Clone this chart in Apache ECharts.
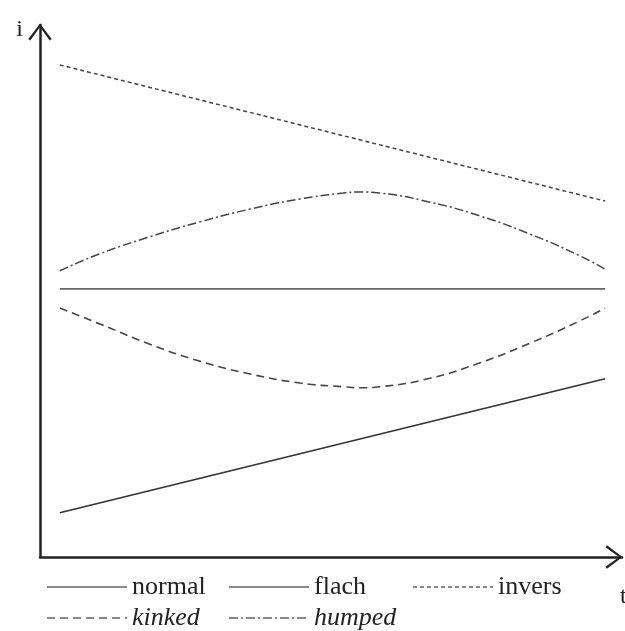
<!DOCTYPE html>
<html>
<head>
<meta charset="utf-8">
<script src="https://cdn.jsdelivr.net/npm/echarts@6/dist/echarts.min.js"></script>
<style>html,body{margin:0;padding:0;background:#fff}#c{width:625px;height:631px}</style>
</head>
<body>
<div id="c"></div>
<script>
// time positions (x axis, 0..100 scale)
var tCurve = [3.4, 10.3, 18.9, 27.5, 36.1, 44.7, 52.1, 55.0, 58.4, 67.0, 75.6, 84.2, 92.8, 97.1];
var tEnds = [3.4, 97.1];
// interest rate values (y axis, 0..100 scale)
var normalVals = [8.3, 33.5];
var flachVals = [50.4, 50.4];
var inversVals = [92.5, 66.9];
var kinkedVals = [46.8, 43.8, 40.0, 36.8, 34.4, 32.7, 32.0, 31.8, 32.0, 33.6, 36.5, 40.2, 44.4, 46.8];
var humpedVals = [53.8, 57.0, 60.2, 63.0, 65.4, 67.3, 68.4, 68.6, 68.4, 66.7, 64.1, 60.7, 56.6, 54.1];
var seriesNames = ['normal', 'flach', 'invers', 'kinked', 'humped'];
var axisNameX = 't';
var axisNameY = 'i';

function pairs(xs, ys) { return xs.map(function (x, i) { return [x, ys[i]]; }); }

var serif = 'Liberation Serif, Times New Roman, serif';
var chevron = 'path://M0,16 L12,0 L24,16 L22,17.5 L12,3.5 L2,17.5 Z';
var hiddenSymbol = { color: 'rgba(0,0,0,0)', borderColor: 'rgba(0,0,0,0)', borderWidth: 0, opacity: 0 };

// legend layout: [series index, left, top, italic]
var legendSlots = [[0, 46, 574, false], [1, 228, 574, false], [2, 412, 574, false], [3, 46, 605, true], [4, 228, 605, true]];
var legends = legendSlots.map(function (s) {
  return {
    left: s[1], top: s[2], padding: 0, itemWidth: 80, itemHeight: 14,
    textStyle: { fontFamily: serif, fontSize: 26, color: '#222', fontStyle: s[3] ? 'italic' : 'normal' },
    lineStyle: { color: '#888', width: 2 },
    itemStyle: hiddenSymbol,
    data: [seriesNames[s[0]]]
  };
});

var chart = echarts.init(document.getElementById('c'), null, { renderer: 'canvas' });
chart.setOption({
  animation: false,
  grid: { left: 40, right: 3, top: 25, bottom: 74, outerBoundsMode: 'none', containLabel: false },
  xAxis: {
    type: 'value', min: 0, max: 100,
    name: axisNameX, nameLocation: 'end', nameGap: -2,
    nameTextStyle: { fontFamily: serif, fontSize: 24, color: '#222', align: 'left', verticalAlign: 'top', padding: [28, 0, 0, 0] },
    axisLine: { show: true, lineStyle: { color: '#222', width: 2.5 }, symbol: ['none', chevron], symbolSize: [24, 17], symbolOffset: [0, -8] },
    axisTick: { show: false }, axisLabel: { show: false }, splitLine: { show: false }
  },
  yAxis: {
    type: 'value', min: 0, max: 100,
    name: axisNameY, nameLocation: 'end', nameGap: -5,
    nameTextStyle: { fontFamily: serif, fontSize: 24, color: '#222', align: 'right', verticalAlign: 'middle', padding: [0, 17, 0, 0] },
    axisLine: { show: true, lineStyle: { color: '#222', width: 2.5 }, symbol: ['none', chevron], symbolSize: [24, 17], symbolOffset: [0, -7] },
    axisTick: { show: false }, axisLabel: { show: false }, splitLine: { show: false }
  },
  legend: legends,
  series: [
    { name: seriesNames[0], type: 'line', symbol: 'none', data: pairs(tEnds, normalVals), lineStyle: { color: '#333', width: 1.6, type: 'solid' }, itemStyle: { color: '#333' } },
    { name: seriesNames[1], type: 'line', symbol: 'none', data: pairs(tEnds, flachVals), lineStyle: { color: '#666', width: 1.8, type: 'solid' }, itemStyle: { color: '#666' } },
    { name: seriesNames[2], type: 'line', symbol: 'none', data: pairs(tEnds, inversVals), lineStyle: { color: '#444', width: 1.5, type: [4, 3] }, itemStyle: { color: '#444' } },
    { name: seriesNames[3], type: 'line', symbol: 'none', smooth: 0.5, data: pairs(tCurve, kinkedVals), lineStyle: { color: '#444', width: 1.6, type: [8, 5] }, itemStyle: { color: '#444' } },
    { name: seriesNames[4], type: 'line', symbol: 'none', smooth: 0.5, data: pairs(tCurve, humpedVals), lineStyle: { color: '#444', width: 1.5, type: [9, 3, 2, 3] }, itemStyle: { color: '#444' } }
  ]
});
</script>
</body>
</html>
